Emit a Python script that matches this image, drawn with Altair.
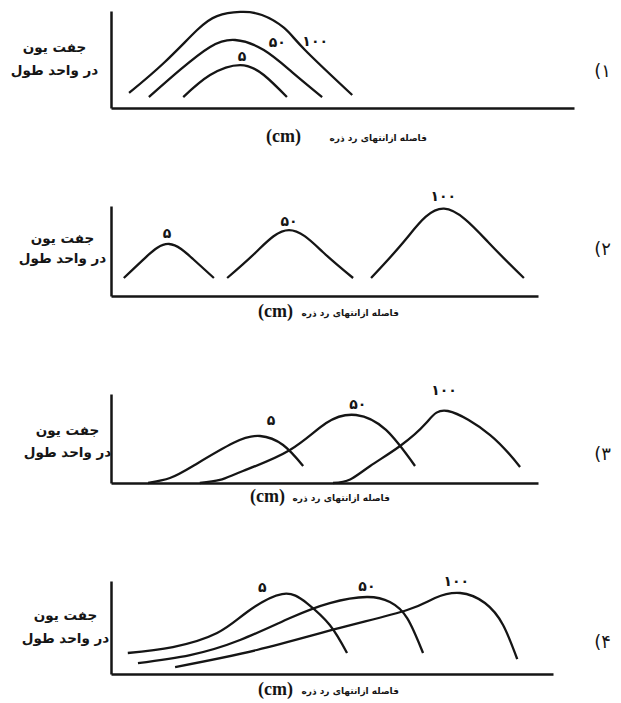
import altair as alt
import pandas as pd

# ---------------- values ----------------
LENGTHS = ["۵", "۵۰", "۱۰۰"]          # track lengths (cm) written on the curves
OPTIONS = ["(۱", "(۲", "(۳", "(۴"]    # option numbers
Y_TITLE = ["جفت یون", "در واحد طول"]
X_TITLE = "فاصله ازانتهای رد ذره"
X_UNIT = "(cm)"

# panel 1 (x, y in 0..100 of each panel's axes)
p1_x5 = [15.6, 21.4, 27.9, 33.0, 38.0]
p1_y5 = [11.3, 34.0, 44.3, 34.0, 11.3]
p1_x50 = [8.2, 14.9, 21.4, 26.8, 33.0, 39.1, 45.6]
p1_y50 = [11.3, 39.2, 62.9, 70.1, 59.8, 37.1, 11.3]
p1_x100 = [3.9, 11.4, 18.6, 22.9, 27.9, 32.6, 37.4, 41.9, 52.1]
p1_y100 = [15.5, 46.4, 80.4, 94.8, 99.0, 95.9, 82.5, 59.8, 13.4]
p1_lab_x = [28.3, 35.9, 44.1]
p1_lab_y = [52.6, 67.0, 68.0]

# panel 2
p2_x5 = [3.0, 8.2, 13.6, 19.2, 24.1]
p2_y5 = [20.0, 43.3, 57.8, 41.1, 20.0]
p2_x50 = [27.2, 34.0, 41.7, 49.6, 56.7]
p2_y50 = [20.0, 48.9, 73.3, 48.9, 20.0]
p2_x100 = [60.9, 69.1, 78.0, 88.3, 96.7]
p2_y100 = [20.0, 63.3, 97.0, 60.0, 20.0]
p2_lab_x = [13.1, 41.7, 77.8]
p2_lab_y = [68.9, 82.2, 110.0]

# panel 3
p3_x5 = [8.7, 13.8, 19.2, 28.6, 34.9, 40.3, 45.0]
p3_y5 = [0.0, 5.6, 19.1, 44.9, 52.8, 42.7, 19.1]
p3_x50 = [20.8, 25.5, 30.9, 41.9, 50.4, 57.4, 64.4, 71.2]
p3_y50 = [0.0, 3.4, 13.5, 37.1, 67.4, 76.4, 59.6, 19.1]
p3_x100 = [52.0, 56.0, 60.7, 67.7, 73.8, 78.9, 88.8, 95.8]
p3_y100 = [0.0, 4.0, 19.1, 41.6, 67.4, 80.9, 53.9, 18.0]
p3_lab_x = [37.5, 57.8, 78.0]
p3_lab_y = [69.7, 87.6, 103.4]

# panel 4
p4_x5 = [3.8, 14.0, 24.0, 30.8, 38.7, 44.3, 49.5, 53.4]
p4_y5 = [22.6, 29.0, 44.1, 66.7, 86.0, 76.3, 52.7, 22.6]
p4_x50 = [6.1, 17.9, 29.2, 40.5, 49.5, 57.9, 63.1, 67.0, 70.6]
p4_y50 = [11.8, 20.4, 36.6, 60.2, 76.3, 82.8, 77.4, 60.2, 22.6]
p4_x100 = [14.5, 33.0, 51.8, 67.0, 73.3, 79.0, 84.6, 88.7, 91.9]
p4_y100 = [7.5, 25.8, 49.5, 68.8, 81.7, 87.1, 76.3, 52.7, 16.1]
p4_lab_x = [34.2, 57.9, 78.1]
p4_lab_y = [92.5, 93.5, 98.9]

INK = "#151515"
FA = "DejaVu Sans"


def curves_df(xs_list, ys_list):
    rows = []
    for lab, xs, ys in zip(LENGTHS, xs_list, ys_list):
        for i, (x, y) in enumerate(zip(xs, ys)):
            rows.append({"length": lab, "x": x, "y": y, "i": i})
    return pd.DataFrame(rows)


def labels_df(xs, ys):
    return pd.DataFrame({"length": LENGTHS, "x": xs, "y": ys})


def panel(w, h, curves, labs, yt_x, yt_y, y_lh, xt_x, xt_y,
          cm_x, cm_y, opt, opt_y):
    xaxis = alt.Axis(domain=True, domainColor=INK, domainWidth=2.5,
                     ticks=False, labels=False, grid=False,
                     title=X_TITLE, titleFont=FA, titleFontSize=9,
                     titleFontWeight="bold", titleColor=INK,
                     titleAlign="left", titleBaseline="middle",
                     titleX=xt_x, titleY=xt_y)
    yaxis = alt.Axis(domain=True, domainColor=INK, domainWidth=2.5,
                     ticks=False, labels=False, grid=False,
                     title=Y_TITLE, titleFont=FA, titleFontSize=13.5,
                     titleFontWeight="bold", titleColor=INK,
                     titleAngle=0, titleAlign="center", titleBaseline="middle",
                     titleX=yt_x, titleY=yt_y, titleLineHeight=y_lh)
    xenc = alt.X("x:Q", scale=alt.Scale(domain=[0, 100], nice=False, zero=False), axis=xaxis)
    yenc = alt.Y("y:Q", scale=alt.Scale(domain=[0, 100], nice=False, zero=False), axis=yaxis)

    lines = alt.Chart(curves).mark_line(
        interpolate="natural", color=INK, strokeWidth=2.3
    ).encode(x=xenc, y=yenc, detail="length:N", order="i:Q")

    texts = alt.Chart(labs).mark_text(
        font=FA, fontSize=14, fontWeight="bold", color=INK,
        align="center", baseline="middle"
    ).encode(x=xenc, y=yenc, text="length:N")

    unit = alt.Chart(pd.DataFrame({"t": [X_UNIT]})).mark_text(
        font="Liberation Serif", fontSize=18, fontWeight="bold", color=INK,
        align="right", baseline="middle"
    ).encode(text="t:N", x=alt.value(cm_x), y=alt.value(cm_y))

    option = alt.Chart(pd.DataFrame({"t": [opt]})).mark_text(
        font=FA, fontSize=18, color=INK, align="right", baseline="middle"
    ).encode(text="t:N", x=alt.value(500), y=alt.value(opt_y))

    return alt.layer(lines, texts, unit, option).properties(width=w, height=h)


p1 = panel(463, 97,
           curves_df([p1_x5, p1_x50, p1_x100], [p1_y5, p1_y50, p1_y100]),
           labels_df(p1_lab_x, p1_lab_y),
           -57, 36, 23, 218, 29, 190, 126, OPTIONS[0], 61)
p2 = panel(427, 90,
           curves_df([p2_x5, p2_x50, p2_x100], [p2_y5, p2_y50, p2_y100]),
           labels_df(p2_lab_x, p2_lab_y),
           -49, 32, 20, 190, 16, 182, 106, OPTIONS[1], 44)
p3 = panel(427, 89,
           curves_df([p3_x5, p3_x50, p3_x100], [p3_y5, p3_y50, p3_y100]),
           labels_df(p3_lab_x, p3_lab_y),
           -44, 36, 22, 181, 14, 174, 103, OPTIONS[2], 61)
p4 = panel(442, 93,
           curves_df([p4_x5, p4_x50, p4_x100], [p4_y5, p4_y50, p4_y100]),
           labels_df(p4_lab_x, p4_lab_y),
           -46, 34, 23, 190, 16, 182, 109, OPTIONS[3], 62)

chart = alt.vconcat(p1, p2, p3, p4, spacing=98, bounds="flush").properties(
    autosize=alt.AutoSizeParams(type="none"),
    padding={"left": 103, "top": 3, "right": 502, "bottom": 688},
).configure_view(stroke="transparent")

chart.save("out.html", embed_options={"renderer": "svg", "actions": False})
